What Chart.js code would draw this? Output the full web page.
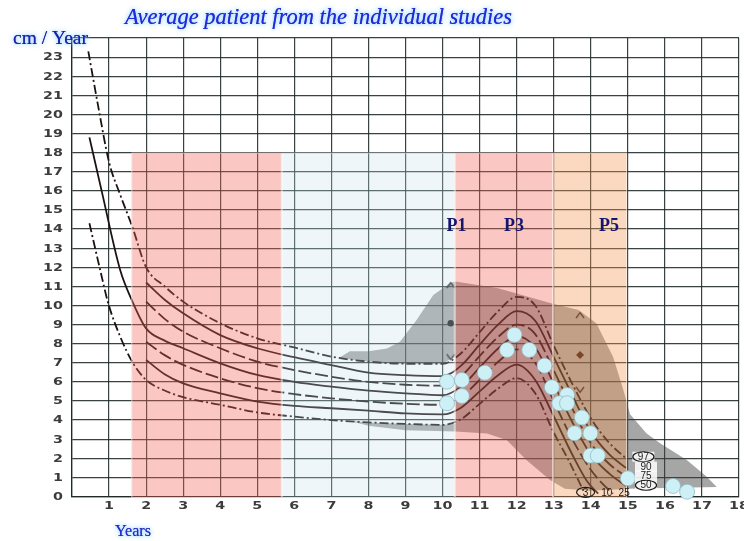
<!DOCTYPE html>
<html><head><meta charset="utf-8">
<script src="https://cdn.jsdelivr.net/npm/chart.js@4/dist/chart.umd.min.js"></script>
<style>html,body{margin:0;padding:0;background:#fff;overflow:hidden}</style>
</head><body>
<canvas id="c" width="744" height="541" style="width:744px;height:541px;display:block"></canvas>
<script>
// ---------- data ----------
const xTickLabels = [1,2,3,4,5,6,7,8,9,10,11,12,13,14,15,16,17,18];
const yTickLabels = [0,1,2,3,4,5,6,7,8,9,10,11,12,13,14,15,16,17,18,19,20,21,22,23];

const ages97 = [0.44,0.7,1.0,1.3,1.63,2,2.5,3,4,5,6,7,8,9,10,10.5,11,11.5,12,12.5,13,13.5,14,14.5,14.95];
const p97    = [23.3,20.5,17.5,15.8,14.1,12.0,11.0,10.2,9.07,8.28,7.8,7.32,7.06,6.95,6.95,7.5,8.6,9.7,10.45,10.0,7.9,5.9,4.1,2.8,2.0];
const ages90 = [2,2.5,3,4,5,6,7,8,9,10,10.5,11,11.5,12,12.5,13,13.5,14,14.5,14.95];
const p90    = [11.2,10.3,9.59,8.45,7.76,7.29,6.88,6.48,6.35,6.3,6.85,7.95,9.0,9.7,9.2,7.3,5.3,3.4,2.2,1.5];
const ages75 = [2,2.5,3,4,5,6,7,8,9,10,10.5,11,11.5,12,12.5,13,13.5,14,14.5,14.95];
const p75    = [10.2,9.3,8.63,7.76,7.06,6.62,6.27,6.0,5.85,5.8,6.3,7.35,8.35,9.0,8.5,6.6,4.6,2.8,1.7,1.05];
const ages50 = [0.47,0.8,1.3,1.61,2,2.5,3,4,5,6,7,8,9,10,10.5,11,11.5,12,12.5,13,13.5,14,14.5,14.95];
const p50    = [18.8,16.0,11.86,10.3,8.8,8.16,7.76,6.97,6.36,6.0,5.75,5.54,5.4,5.3,5.75,6.75,7.75,8.4,7.8,5.9,3.9,2.2,1.2,0.55];
const ages25 = [2,2.5,3,4,5,6,7,8,9,10,10.5,11,11.5,12,12.5,13,13.5,14,14.3,14.6];
const p25    = [8.1,7.4,6.89,6.19,5.67,5.36,5.14,4.97,4.85,4.8,5.2,6.1,7.05,7.7,7.0,5.0,3.0,1.4,0.7,0.15];
const ages10 = [2,2.5,3,4,5,6,7,8,9,10,10.5,11,11.5,12,12.5,13,13.5,13.9,14.2];
const p10    = [7.15,6.4,5.92,5.4,4.97,4.74,4.62,4.49,4.35,4.3,4.65,5.5,6.35,6.9,6.1,4.2,2.2,0.8,0.15];
const ages3  = [0.47,0.76,0.98,1.3,1.65,2,2.5,3,4,5,6,7,8,9,10,10.5,11,11.5,12,12.5,13,13.4,13.8];
const p3     = [14.3,11.86,10.1,8.37,6.97,6.1,5.55,5.2,4.8,4.4,4.18,4.0,3.88,3.8,3.75,4.05,4.85,5.65,6.2,5.4,3.35,1.9,0.3];

// grey band of the individual studies (outline)
const bandAge = [7.2,7.5,8.0,8.5,8.85,9.3,9.75,10.2,10.35,11.5,12.95,13.67,14.15,14.6,14.88,15.06,15.5,15.87,16.59,17.13,17.4,16.0,15.0,14.0,13.3,12.9,12.27,11.73,11.2,10.35,9.0,8.0,7.5,8.0,9.0,10.0,10.35,10.35,10.0,9.0,8.0,7.2];
const bandVel = [7.25,7.6,7.6,7.75,8.1,9.24,10.55,11.16,11.25,10.9,10.1,9.76,9.07,7.32,5.58,4.3,3.31,2.79,1.91,1.04,0.5,0.45,0.4,0.3,0.4,0.86,1.9,2.96,3.3,3.4,3.47,3.7,3.95,3.88,3.8,3.75,3.8,7.35,6.95,6.95,7.06,7.25];

// average patients
const patientAge = [10.12,10.52,10.12,10.52,11.14,11.94,11.74,12.34,12.75,12.95,13.36,13.15,13.36,13.76,13.56,13.99,13.99,14.19,15.0,16.22,16.6];
const patientVel = [6.01,6.1,4.88,5.26,6.48,8.46,7.67,7.67,6.85,5.72,5.31,4.88,4.88,4.13,3.31,3.31,2.14,2.14,0.95,0.55,0.25];

// study markers
const markAge   = [10.22,13.71];
const markUpper = [11.07,9.5];
const markMid   = [9.07,7.41];
const markLower = [7.29,5.58];

// phases
const phaseStart = [1.6,5.66,10.33,12.98];
const phaseEnd   = [5.66,10.33,12.98,14.98];
const phaseTop   = 18;
const phaseNames = ['P1','P3','P5'];
const phaseNameAge = [10.375,11.93,14.49];
const phaseNameVel = [14.2,14.2,14.2];

// percentile labels
const pctText = ['97','90','75','50','3','10','25'];
const pctAge  = [15.42,15.49,15.49,15.49,13.86,14.43,14.9];
const pctVel  = [2.08,1.56,1.09,0.59,0.22,0.22,0.22];
const pctCircled = [true,false,false,true,true,false,false];

// ---------- helpers ----------
const pts = (xs, ys) => xs.map((x, i) => ({x, y: ys[i]}));
function chevron(up){
  const c = document.createElement('canvas'); c.width = 10; c.height = 8;
  const g = c.getContext('2d'); g.strokeStyle = '#2a2222'; g.lineWidth = 1.3; g.beginPath();
  if (up){ g.moveTo(1,7); g.lineTo(5,1.5); g.lineTo(9,7); } else { g.moveTo(1,1); g.lineTo(5,6.5); g.lineTo(9,1); }
  g.stroke(); return c;
}
const LINE = '#1c1212';
const dashDot = [9,3,2,3], dashed = [13,4];
function curve(xs, ys, dash){
  return {type:'line', data: pts(xs, ys), borderColor: LINE, borderWidth: 1.8, borderDash: dash,
    pointRadius: 0, fill: false, cubicInterpolationMode: 'monotone', order: 5};
}
const phaseColors = ['rgba(240,100,90,0.36)','rgba(195,222,232,0.28)','rgba(240,100,90,0.36)','rgba(245,150,80,0.36)'];

const overlayPlugin = {
  id: 'phases',
  beforeDatasetDraw(chart, args){
    if (args.index !== 0) return;
    const {ctx, scales:{x, y}} = chart;
    ctx.save();
    phaseStart.forEach((s, i) => {
      const x0 = x.getPixelForValue(s), x1 = x.getPixelForValue(phaseEnd[i]);
      const y0 = y.getPixelForValue(phaseTop), y1 = y.getPixelForValue(0) + 1.5;
      ctx.fillStyle = phaseColors[i];
      ctx.fillRect(x0, y0, x1 - x0, y1 - y0);
      ctx.strokeStyle = 'rgba(255,255,255,0.55)'; ctx.lineWidth = 1;
      ctx.strokeRect(x0 + 0.5, y0 + 0.5, x1 - x0 - 1, y1 - y0 - 1);
    });
    ctx.restore();
  }
};

function glowText(ctx, text, x, y, font, color){
  ctx.save(); ctx.font = font; ctx.fillStyle = color;
  ctx.shadowColor = 'rgba(140,210,255,0.95)'; ctx.shadowBlur = 6;
  ctx.fillText(text, x, y); ctx.shadowBlur = 3; ctx.fillText(text, x, y);
  ctx.restore();
}

const textPlugin = {
  id: 'texts',
  afterDraw(chart){
    const {ctx, scales:{x, y}} = chart;
    ctx.save();
    // tick labels
    ctx.fillStyle = '#3c3c3c'; ctx.font = 'bold 11px "DejaVu Sans"';
    ctx.textBaseline = 'middle';
    yTickLabels.forEach(v => {
      const py = y.getPixelForValue(v);
      ctx.save(); ctx.translate(63, py); ctx.scale(1.3, 1); ctx.textAlign = 'right'; ctx.fillText(String(v), 0, 0.5); ctx.restore();
    });
    xTickLabels.forEach(v => {
      const px = x.getPixelForValue(v);
      ctx.save(); ctx.translate(px, 506.5); ctx.scale(1.3, 1); ctx.textAlign = 'center'; ctx.fillText(String(v), 0, 0); ctx.restore();
    });
    // phase names
    ctx.font = 'bold 18px "Liberation Serif"'; ctx.fillStyle = '#16166e'; ctx.textAlign = 'center';
    phaseNames.forEach((t, i) => ctx.fillText(t, x.getPixelForValue(phaseNameAge[i]), y.getPixelForValue(phaseNameVel[i]) + 1));
    // percentile labels
    ctx.font = '10px "Liberation Sans"'; ctx.textAlign = 'center'; ctx.textBaseline = 'middle';
    pctText.forEach((t, i) => {
      const px = x.getPixelForValue(pctAge[i]), py = y.getPixelForValue(pctVel[i]);
      const w = ctx.measureText(t).width;
      if (i < 4){ ctx.fillStyle = 'rgba(255,255,255,0.85)'; ctx.fillRect(px - 11, py - 5, 22, 10); }
      ctx.fillStyle = '#1a1a1a'; ctx.fillText(t, px, py + 0.5);
      if (pctCircled[i]){
        ctx.beginPath(); ctx.ellipse(px, py, Math.max(w / 2 + 5, 9), 5, 0, 0, Math.PI * 2);
        ctx.strokeStyle = '#1a1a1a'; ctx.lineWidth = 1.2; ctx.stroke();
      }
    });
    ctx.restore();
    // titles
    ctx.save(); ctx.textBaseline = 'alphabetic'; ctx.textAlign = 'left';
    const title = 'Average patient from the individual studies';
    ctx.font = 'italic 20px "Liberation Serif"';
    let fs = 20 * 387 / ctx.measureText(title).width;
    glowText(ctx, title, 125, 24, 'italic ' + fs.toFixed(2) + 'px "Liberation Serif"', '#2626d6');
    ctx.font = '18px "Liberation Serif"';
    let fs2 = 18 * 75 / ctx.measureText('cm / Year').width;
    glowText(ctx, 'cm / Year', 13, 44, fs2.toFixed(2) + 'px "Liberation Serif"', '#1e1ea8');
    ctx.font = '16px "Liberation Serif"';
    let fs3 = 16 * 36 / ctx.measureText('Years').width;
    glowText(ctx, 'Years', 115, 536, fs3.toFixed(2) + 'px "Liberation Serif"', '#2a2ac8');
    ctx.restore();
  }
};

const gridColor = 'rgba(30,40,40,0.88)';
new Chart(document.getElementById('c'), {
  type: 'scatter',
  data: { datasets: [
    {type:'scatter', data: pts(patientAge, patientVel), pointRadius: 7.5, pointHoverRadius: 7.5, clip: false,
      backgroundColor: 'rgb(205,240,246)', borderColor: 'rgba(140,185,195,0.75)', borderWidth: 1, order: 0},
    {type:'scatter', data: pts([markAge[0]], [markMid[0]]), pointStyle: 'circle', pointRadius: 3.2, backgroundColor: '#1a1a1a', borderWidth: 0, order: 1},
    {type:'scatter', data: pts([markAge[1]], [markMid[1]]), pointStyle: 'rectRot', pointRadius: 4, backgroundColor: '#3a1810', borderWidth: 0, order: 1},
    {type:'scatter', data: pts(markAge, markUpper), pointStyle: chevron(true), order: 1},
    {type:'scatter', data: pts(markAge, markLower), pointStyle: chevron(false), order: 1},
    curve(ages97, p97, dashDot),
    curve(ages90, p90, []),
    curve(ages75, p75, dashed),
    curve(ages50, p50, []),
    curve(ages25, p25, dashed),
    curve(ages10, p10, []),
    curve(ages3, p3, dashDot),
    {type:'line', data: pts(bandAge, bandVel), borderWidth: 0, borderColor: 'rgba(0,0,0,0)', pointRadius: 0,
      tension: 0, fill: 'shape', backgroundColor: 'rgba(65,65,65,0.47)', order: 10}
  ]},
  options: {
    responsive: false, animation: false, devicePixelRatio: 1,
    events: [],
    layout: { autoPadding: false, padding: {top: 38, right: 5, left: 0, bottom: 0} },
    plugins: { legend: {display: false}, tooltip: {enabled: false}, title: {display: false} },
    scales: {
      x: { type: 'linear', min: 0, max: 18,
        ticks: { stepSize: 1, autoSkip: false, display: false },
        grid: { color: gridColor, lineWidth: 1.2, drawTicks: false },
        border: { display: true, color: gridColor, width: 1.3 },
        afterFit(s){ s.height = 44.5; s.paddingLeft = 0; s.paddingRight = 0; } },
      y: { type: 'linear', min: 0, max: 24,
        ticks: { stepSize: 1, autoSkip: false, display: false },
        grid: { color: gridColor, lineWidth: 1.2, drawTicks: false },
        border: { display: true, color: gridColor, width: 1.3 },
        afterFit(s){ s.width = 72; s.paddingTop = 0; s.paddingBottom = 0; } }
    }
  },
  plugins: [overlayPlugin, textPlugin]
});
</script>
</body></html>
